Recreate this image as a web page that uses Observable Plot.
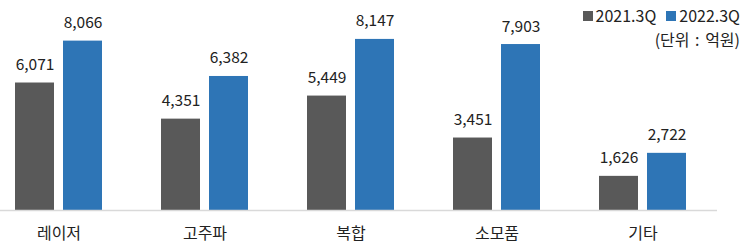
<!DOCTYPE html>
<html>
<head>
<meta charset="utf-8">
<script src="https://cdn.jsdelivr.net/npm/d3@7"></script>
<script src="https://cdn.jsdelivr.net/npm/@observablehq/plot@0.6"></script>
<style>
  html, body { margin: 0; padding: 0; background: #fff; }
  #wrap { position: relative; width: 751px; height: 248px; font-family: "Noto Sans CJK KR", "Malgun Gothic", sans-serif; color: #222; }
  #legend { position: absolute; right: 11px; top: 3px; font-size: 16px; text-align: right; line-height: 24px; }
  #legend .sw { display: inline-block; width: 10px; height: 10px; margin-right: 3px; vertical-align: 1px; }
  #legend .item { margin-left: 10px; }
  #legend .unit { word-spacing: 2px; }
</style>
</head>
<body>
<div id="wrap">
  <div id="chart"></div>
  <div id="legend"></div>
</div>
<script>
// Revenue by product line, 3Q comparison (unit: 억원)
const categories = ["레이저", "고주파", "복합", "소모품", "기타"];
const seriesNames = ["2021.3Q", "2022.3Q"];
const values2021 = [6071, 4351, 5449, 3451, 1626];
const values2022 = [8066, 6382, 8147, 7903, 2722];
const colors = ["#595959", "#2E75B6"];

const rows = categories.flatMap((c, i) => [
  {category: c, series: seriesNames[0], value: values2021[i]},
  {category: c, series: seriesNames[1], value: values2022[i]}
]);

const fmt = d3.format(",");
const first = rows.filter(d => d.series === seriesNames[0]);
const second = rows.filter(d => d.series === seriesNames[1]);

const chart = Plot.plot({
  width: 751,
  height: 248,
  marginLeft: 0,
  marginRight: 34,
  marginTop: 0,
  marginBottom: 38,
  style: {fontFamily: "'Noto Sans CJK KR', sans-serif", fontSize: "15px", color: "#222"},
  x: {domain: categories, range: [-14.5, 715.5], paddingInner: 0.404, paddingOuter: 0.202, label: null},
  y: {domain: [0, 10000], axis: null},
  marks: [
    Plot.barY(first, {x: "category", y: "value", fill: colors[0], insetRight: 48}),
    Plot.barY(second, {x: "category", y: "value", fill: colors[1], insetLeft: 48}),
    Plot.ruleY([0], {stroke: "#d9d9d9", strokeWidth: 1.5}),
    Plot.text(first, {x: "category", y: "value", text: d => fmt(d.value), dx: -24, dy: -13, lineAnchor: "bottom", fontSize: 15.5, fill: "#222"}),
    Plot.text(second, {x: "category", y: "value", text: d => fmt(d.value), dx: 24, dy: -13, lineAnchor: "bottom", fontSize: 15.5, fill: "#222"}),
    Plot.axisX({tickSize: 0, tickPadding: 17, fontSize: 16, fill: "#222", label: null})
  ]
});
document.getElementById("chart").appendChild(chart);

const legend = document.getElementById("legend");
legend.innerHTML =
  `<div>${seriesNames.map((s, i) => `<span class="item"><span class="sw" style="background:${colors[i]}"></span>${s}</span>`).join("")}</div>` +
  `<div class="unit">(단위 : 억원)</div>`;
</script>
</body>
</html>
